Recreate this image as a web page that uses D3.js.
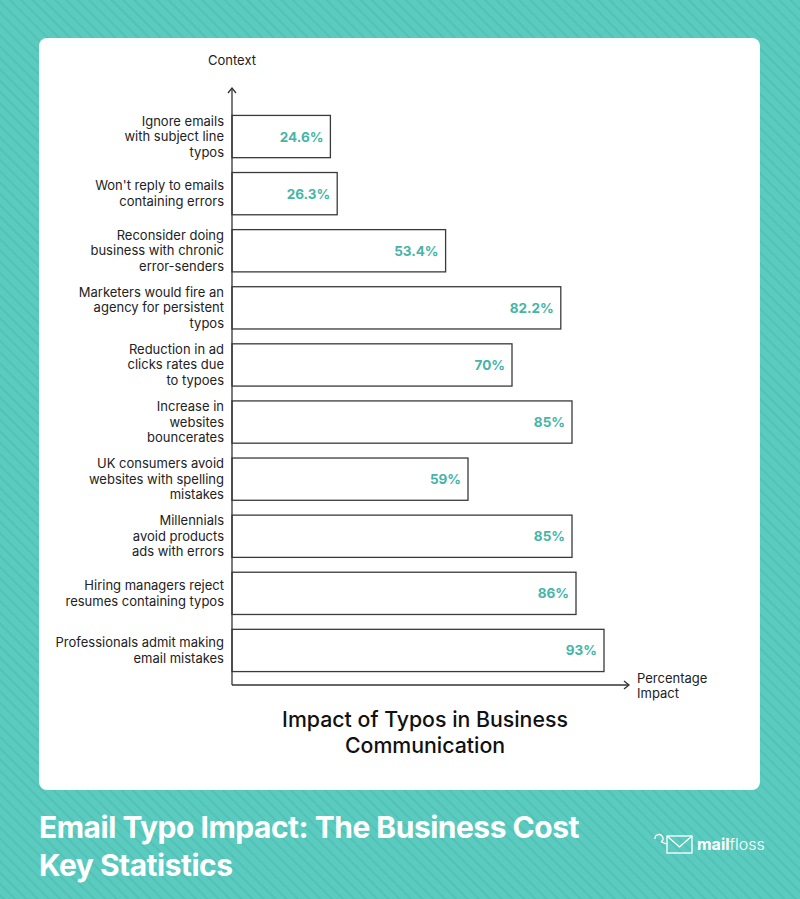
<!DOCTYPE html>
<html>
<head>
<meta charset="utf-8">
<script src="https://cdn.jsdelivr.net/npm/d3@7"></script>
<style>
  body { margin: 0; padding: 0; background: #5ccbbf; }
  svg { display: block; font-family: Inter, "Noto Sans", sans-serif; }
</style>
</head>
<body>
<script>
// data
const categories = [
  ["Ignore emails", "with subject line", "typos"],
  ["Won't reply to emails", "containing errors"],
  ["Reconsider doing", "business with chronic", "error-senders"],
  ["Marketers would fire an", "agency for persistent", "typos"],
  ["Reduction in ad", "clicks rates due", "to typoes"],
  ["Increase in", "websites", "bouncerates"],
  ["UK consumers avoid", "websites with spelling", "mistakes"],
  ["Millennials", "avoid products", "ads with errors"],
  ["Hiring managers reject", "resumes containing typos"],
  ["Professionals admit making", "email mistakes"]
];
const values = [24.6, 26.3, 53.4, 82.2, 70, 85, 59, 85, 86, 93];
const valueLabels = ["24.6%", "26.3%", "53.4%", "82.2%", "70%", "85%", "59%", "85%", "86%", "93%"];
const chartTitle = ["Impact of Typos in Business", "Communication"];
const footerTitle = ["Email Typo Impact: The Business Cost", "Key Statistics"];

const w = 800, h = 899;
const teal = "#5ccbbf";

const svg = d3.select("body").append("svg")
  .attr("width", w).attr("height", h);

// striped background
const defs = svg.append("defs");
const pat = defs.append("pattern")
  .attr("id", "stripes")
  .attr("patternUnits", "userSpaceOnUse")
  .attr("width", 8).attr("height", 8)
  .attr("patternTransform", "rotate(45)");
pat.append("rect").attr("width", 8).attr("height", 8).attr("fill", teal);
pat.append("rect").attr("width", 8).attr("height", 2).attr("fill", "#53c2b6");

svg.append("rect").attr("width", w).attr("height", h).attr("fill", "url(#stripes)");

// card
svg.append("rect")
  .attr("x", 39).attr("y", 38).attr("width", 721).attr("height", 752)
  .attr("rx", 8).attr("fill", "#fff");

// scales
const xScale = d3.scaleLinear().domain([0, 100]).range([232, 632]);
const yScale = d3.scaleBand()
  .domain(d3.range(values.length))
  .range([108, 679])
  .paddingInner(0.26)
  .paddingOuter(0.13);

const g = svg.append("g");

// bars
g.selectAll("rect.bar")
  .data(values)
  .enter()
  .append("rect")
  .attr("class", "bar")
  .attr("x", xScale(0))
  .attr("y", (d, i) => yScale(i))
  .attr("width", d => xScale(d) - xScale(0))
  .attr("height", yScale.bandwidth())
  .attr("fill", "#fff")
  .attr("stroke", "#3a3a3a")
  .attr("stroke-width", 1.3);

// value labels
g.selectAll("text.val")
  .data(values)
  .enter()
  .append("text")
  .attr("class", "val")
  .attr("x", d => xScale(d) - 7)
  .attr("y", (d, i) => yScale(i) + yScale.bandwidth() / 2 + 5)
  .attr("text-anchor", "end")
  .attr("font-size", 13.5)
  .attr("font-weight", 700)
  .attr("fill", "#45b5a8")
  .text((d, i) => valueLabels[i]);

// category labels
const lineH = 15.5;
g.selectAll("text.cat")
  .data(categories)
  .enter()
  .append("text")
  .attr("class", "cat")
  .attr("text-anchor", "end")
  .attr("font-size", 13)
  .attr("fill", "#222")
  .each(function (lines, i) {
    const cy = yScale(i) + yScale.bandwidth() / 2;
    const y0 = cy - (lines.length - 1) * lineH / 2 + 4.5;
    d3.select(this).selectAll("tspan")
      .data(lines)
      .enter()
      .append("tspan")
      .attr("x", 224)
      .attr("y", (l, j) => y0 + j * lineH)
      .text(l => l);
  });

// axes with arrows
const axisColor = "#333";
g.append("line")
  .attr("x1", 232).attr("y1", 685).attr("x2", 232).attr("y2", 89)
  .attr("stroke", axisColor).attr("stroke-width", 1.3);
g.append("path")
  .attr("d", "M228,93 L232,88 L236,93")
  .attr("fill", "none").attr("stroke", axisColor).attr("stroke-width", 1.3);
g.append("line")
  .attr("x1", 232).attr("y1", 685).attr("x2", 628).attr("y2", 685)
  .attr("stroke", axisColor).attr("stroke-width", 1.3);
g.append("path")
  .attr("d", "M624,681 L629,685 L624,689")
  .attr("fill", "none").attr("stroke", axisColor).attr("stroke-width", 1.3);

g.append("text")
  .attr("x", 232).attr("y", 65)
  .attr("text-anchor", "middle")
  .attr("font-size", 13).attr("fill", "#222")
  .text("Context");

const xl = g.append("text").attr("font-size", 13).attr("fill", "#222");
xl.append("tspan").attr("x", 637).attr("y", 683).text("Percentage");
xl.append("tspan").attr("x", 637).attr("y", 698).text("Impact");

// chart title
const t = g.append("text")
  .attr("text-anchor", "middle")
  .attr("font-size", 21.3)
  .attr("font-weight", 500)
  .attr("fill", "#111");
chartTitle.forEach((s, i) => {
  t.append("tspan").attr("x", 425).attr("y", 727 + i * 26).text(s);
});

// footer title
const ft = svg.append("text")
  .attr("font-size", 30)
  .attr("font-weight", 700)
  .attr("fill", "#fff")
  .attr("letter-spacing", -0.5);
footerTitle.forEach((s, i) => {
  ft.append("tspan").attr("x", 39).attr("y", 838 + i * 38).text(s);
});

// logo
const logo = svg.append("g").attr("fill", "none").attr("stroke", "#fff").attr("stroke-width", 1.3);
logo.append("path").attr("d", "M655,839 a4,4 0 1 1 6,3 M661,842 q6,2 6,2");
logo.append("rect").attr("x", 667).attr("y", 836).attr("width", 25).attr("height", 17);
logo.append("path").attr("d", "M667,836 L679.5,847 L692,836");
const lt = svg.append("text").attr("x", 697).attr("y", 850).attr("font-size", 16).attr("fill", "#fff");
lt.append("tspan").attr("font-weight", 700).text("mail");
lt.append("tspan").attr("font-weight", 300).text("floss");
</script>
</body>
</html>
